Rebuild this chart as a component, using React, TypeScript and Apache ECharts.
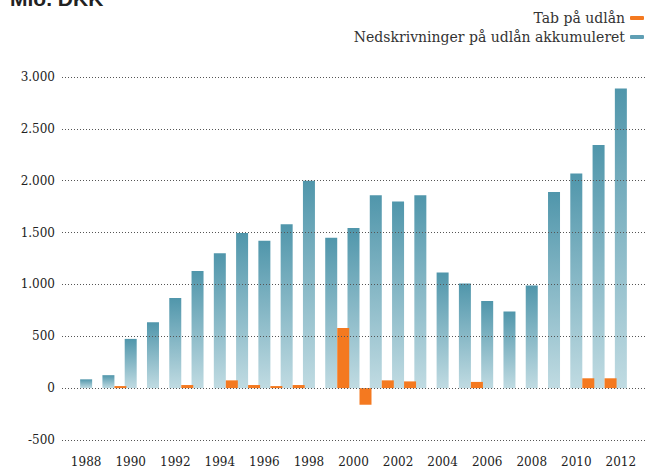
import React, { useEffect, useRef } from "react";
import * as echarts from "echarts";

const years: string[] = [
  "1988", "1989", "1990", "1991", "1992", "1993", "1994", "1995", "1996", "1997",
  "1998", "1999", "2000", "2001", "2002", "2003", "2004", "2005", "2006", "2007",
  "2008", "2009", "2010", "2011", "2012",
];
const nedskrivninger: number[] = [
  85, 125, 475, 635, 870, 1130, 1300, 1495, 1420, 1580,
  2000, 1450, 1545, 1860, 1800, 1860, 1115, 1010, 840, 740,
  990, 1890, 2070, 2345, 2890,
];
const tab: (number | null)[] = [
  null, 20, null, null, 30, null, 75, 30, 20, 30,
  null, 580, -160, 75, 65, null, null, 60, null, null,
  null, null, 95, 95, null,
];
const yMin = -500;
const yMax = 3000;
const yStep = 500;

const SERIF = "DejaVu Serif";

function fmt(v: number): string {
  const s = String(Math.abs(v)).replace(/\B(?=(\d{3})+(?!\d))/g, ".");
  return (v < 0 ? "-" : "") + s;
}

export default function App() {
  const ref = useRef<HTMLDivElement>(null);
  useEffect(() => {
    if (!ref.current) return;
    const chart = echarts.init(ref.current, undefined, { renderer: "svg" });
    const blueGrad = new echarts.graphic.LinearGradient(0, 0, 0, 1, [
      { offset: 0, color: "#5096ab" },
      { offset: 1, color: "#c0dbe2" },
    ]);
    chart.setOption({
      animation: false,
      backgroundColor: "#ffffff",
      graphic: [
        {
          type: "text",
          x: 10,
          y: 9,
          style: {
            text: "Mio. DKK",
            font: "bold 21px 'Liberation Sans', Arial, sans-serif",
            fill: "#222",
            verticalAlign: "bottom",
          },
        },
      ],
      legend: {
        orient: "vertical",
        right: -4,
        top: 6,
        align: "right",
        itemWidth: 14,
        itemHeight: 4,
        itemGap: 5,
        icon: "roundRect",
        textStyle: { fontFamily: SERIF, fontSize: 14, color: "#333" },
        data: [
          { name: "Tab på udlån", itemStyle: { color: "#f47920" } },
          { name: "Nedskrivninger på udlån akkumuleret", itemStyle: { color: "#5f9fb4" } },
        ],
      },
      grid: [
        { left: 62, right: 0, top: 77, bottom: 28, containLabel: false },
        { left: 75, right: 13, top: 77, bottom: 28, containLabel: false },
      ],
      xAxis: [
        {
          gridIndex: 0,
          type: "value",
          show: false,
          min: 0,
          max: 1,
        },
        {
          gridIndex: 1,
          type: "category",
          data: years,
          axisLine: { show: false, onZero: false },
          axisTick: { show: false },
          axisLabel: {
            interval: 1,
            fontFamily: SERIF,
            fontSize: 12,
            color: "#222",
            margin: 16,
          },
        },
      ],
      yAxis: [
        {
          gridIndex: 0,
          type: "value",
          min: yMin,
          max: yMax,
          interval: yStep,
          z: 5,
          axisLine: { show: false },
          axisTick: { show: false },
          axisLabel: {
            fontFamily: SERIF,
            fontSize: 12,
            color: "#222",
            margin: 7,
            formatter: (v: number) => fmt(v),
          },
          splitLine: {
            show: true,
            lineStyle: { color: "#555", width: 1, type: [1, 2] },
          },
        },
        {
          gridIndex: 1,
          type: "value",
          min: yMin,
          max: yMax,
          interval: yStep,
          show: false,
          splitLine: { show: false },
        },
      ],
      series: [
        {
          name: "_spacer",
          type: "bar",
          xAxisIndex: 1,
          yAxisIndex: 1,
          data: [],
          barWidth: 12,
          barGap: "0%",
        },
        {
          name: "Nedskrivninger på udlån akkumuleret",
          type: "bar",
          xAxisIndex: 1,
          yAxisIndex: 1,
          data: nedskrivninger,
          barWidth: 12,
          barGap: "0%",
          itemStyle: { color: blueGrad },
        },
        {
          name: "Tab på udlån",
          type: "bar",
          xAxisIndex: 1,
          yAxisIndex: 1,
          data: tab,
          barWidth: 12,
          barGap: "0%",
          itemStyle: { color: "#f47920" },
        },
      ],
    });
    return () => chart.dispose();
  }, []);
  return (
    <div
      ref={ref}
      style={{ position: "fixed", top: 0, left: 0, width: 645, height: 468 }}
    />
  );
}
